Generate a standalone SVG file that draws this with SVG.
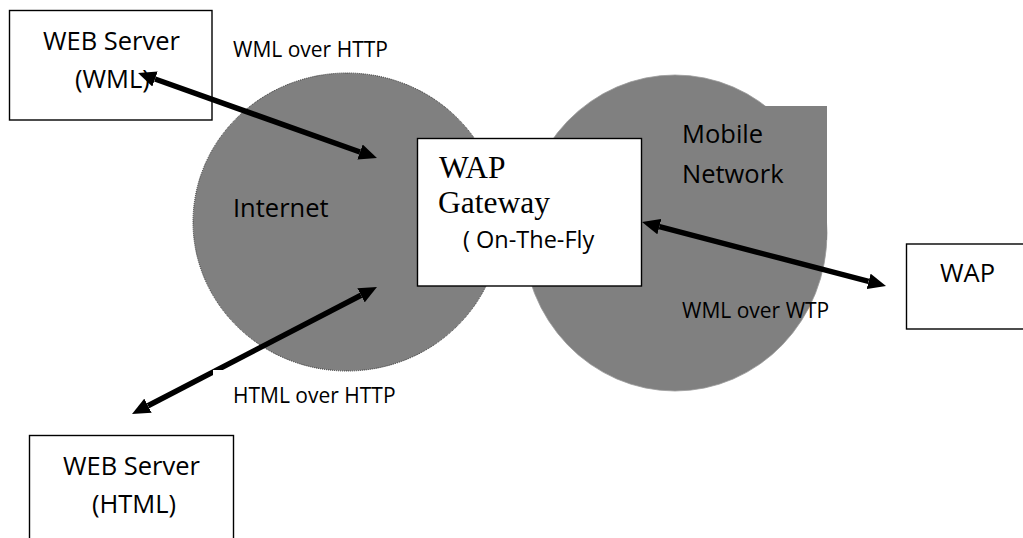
<svg xmlns="http://www.w3.org/2000/svg" width="1023" height="538" viewBox="0 0 1023 538">
  <style>
    .cloud { fill: #808080; }
    .box { fill: #ffffff; stroke: #000000; stroke-width: 1.4; }
    .sans { font-family: "Open Sans", "Liberation Sans", sans-serif; fill: #000000; }
    .big { font-size: 25.5px; }
    .small { font-size: 21px; }
    .serif { font-family: "Liberation Serif", "Times New Roman", serif; font-size: 31.5px; fill: #000000; }
    .link { fill: none; stroke: #000000; stroke-width: 5.5; marker-start: url(#head); marker-end: url(#head); }
  </style>
  <defs>
    <marker id="head" markerUnits="userSpaceOnUse" viewBox="0 0 18 16" markerWidth="18" markerHeight="16" refX="0" refY="8" orient="auto-start-reverse">
      <path d="M0,0 L18,8 L0,16 z" fill="#000000"/>
    </marker>
  </defs>

  <rect width="1023" height="538" fill="#ffffff"/>

  <!-- network clouds -->
  <g id="internet">
    <ellipse class="cloud" cx="347" cy="222" rx="154" ry="149" stroke="#2a2a2a" stroke-width="1" stroke-dasharray="1 1"/>
    <text class="sans big" x="233" y="217">Internet</text>
  </g>
  <g id="mobile-network">
    <ellipse class="cloud" cx="675" cy="233" rx="152" ry="158" stroke="#9a9a9a" stroke-width="0.8"/>
    <rect class="cloud" x="700" y="106" width="127" height="134"/>
    <text class="sans big" x="682" y="143">Mobile</text>
    <text class="sans big" x="682" y="183">Network</text>
  </g>

  <!-- servers, gateway and handset -->
  <g id="web-server-wml">
    <rect class="box" x="9.5" y="10.5" width="202.5" height="109.5"/>
    <text class="sans big" x="43" y="50">WEB Server</text>
    <text class="sans big" x="75" y="88">(WML)</text>
  </g>
  <g id="web-server-html">
    <rect class="box" x="29.5" y="435.5" width="204" height="120"/>
    <text class="sans big" x="63" y="475">WEB Server</text>
    <text class="sans big" x="92" y="513">(HTML)</text>
  </g>
  <g id="wap-gateway">
    <rect class="box" x="417.5" y="138.5" width="224" height="147.5"/>
    <text class="serif" x="439" y="178">WAP</text>
    <text class="serif" x="438" y="213">Gateway</text>
    <text class="sans" x="463" y="248" font-size="23.5">( On-The-Fly</text>
  </g>
  <g id="wap-device">
    <rect class="box" x="906.5" y="244" width="130" height="85"/>
    <text class="sans big" x="940" y="282">WAP</text>
  </g>

  <!-- connectors -->
  <g id="connectors">
    <line class="link" x1="155" y1="79" x2="360" y2="152"/>
    <line class="link" x1="148" y1="405.7" x2="361" y2="295.3"/>
    <line class="link" x1="659.4" y1="226.6" x2="868.6" y2="281.4"/>
  </g>

  <!-- connector labels -->
  <g id="connector-labels">
    <text class="sans small" x="233" y="57">WML over HTTP</text>
    <!-- corner of the label's white background, which clips the connector -->
    <rect x="213" y="370" width="22" height="10" fill="#ffffff"/>
    <text class="sans small" x="233" y="403">HTML over HTTP</text>
    <text class="sans small" x="682" y="318">WML over WTP</text>
  </g>
</svg>
